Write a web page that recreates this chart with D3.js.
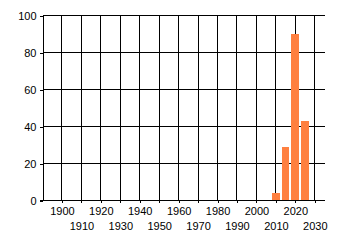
<!DOCTYPE html>
<html>
<head>
<meta charset="utf-8">
<script src="https://cdn.jsdelivr.net/npm/d3@7"></script>
<style>
    body { margin: 0; background: #fff; }
    .axis text { font-family: "Liberation Sans", Arial, sans-serif; font-size: 11px; fill: #000; }
</style>
</head>
<body>
<div id="chart"></div>
<script>
const years = [2010, 2015, 2020, 2025];
const counts = [4, 29, 90, 43];
const yTicks = [0, 20, 40, 60, 80, 100];
const xTicks = [1900, 1910, 1920, 1930, 1940, 1950, 1960, 1970, 1980, 1990, 2000, 2010, 2020, 2030];
const barColor = '#ff8040';

function drawChart() {
    const width = 340, height = 245;
    const left = 42.5, right = 324.5, top = 15.5, bottom = 200.5;

    const svg = d3.select("#chart")
        .append("svg")
        .attr("width", width)
        .attr("height", height);

    const x = d3.scaleLinear().domain([1890, 2035]).range([left, right]);
    const y = d3.scaleLinear().domain([0, 100]).range([bottom, top]);

    // grid
    svg.append("g")
        .selectAll("line.h")
        .data(yTicks)
        .enter()
        .append("line")
        .attr("x1", left).attr("x2", right)
        .attr("y1", d => Math.round(y(d) - 0.5) + 0.5)
        .attr("y2", d => Math.round(y(d) - 0.5) + 0.5)
        .attr("stroke", "black");

    svg.append("g")
        .selectAll("line.v")
        .data(xTicks)
        .enter()
        .append("line")
        .attr("x1", d => Math.round(x(d) - 0.5) + 0.5)
        .attr("x2", d => Math.round(x(d) - 0.5) + 0.5)
        .attr("y1", top).attr("y2", bottom)
        .attr("stroke", "black");

    // bars
    svg.selectAll("rect.bar")
        .data(years)
        .enter()
        .append("rect")
        .attr("class", "bar")
        .attr("x", d => Math.round(x(d - 2)))
        .attr("width", d => Math.round(x(d + 2)) - Math.round(x(d - 2)))
        .attr("y", (d, i) => Math.round(y(counts[i])))
        .attr("height", (d, i) => bottom - 0.5 - Math.round(y(counts[i])))
        .attr("fill", barColor);

    // y axis
    svg.append("g")
        .attr("class", "axis")
        .attr("transform", `translate(${left},0)`)
        .call(d3.axisLeft(y).tickValues(yTicks).tickSize(3).tickPadding(3).tickSizeOuter(0))
        .call(g => g.selectAll("path, line").attr("stroke", "black").attr("shape-rendering", "crispEdges"));

    // x axis, labels staggered on two rows
    const xAxis = svg.append("g")
        .attr("class", "axis")
        .attr("transform", `translate(0,${bottom})`)
        .call(d3.axisBottom(x).tickValues(xTicks).tickFormat(d3.format("d")).tickSize(2).tickSizeOuter(0));
    xAxis.selectAll("path, line").attr("stroke", "black").attr("shape-rendering", "crispEdges");
    xAxis.selectAll(".tick text")
        .attr("dy", null)
        .attr("y", (d, i) => i % 2 === 0 ? 14 : 29.5);
    xAxis.select(".domain").attr("d", `M${left - 3},0H${right}`);

    svg.selectAll("line").attr("shape-rendering", "crispEdges");
}

drawChart();
</script>
</body>
</html>
